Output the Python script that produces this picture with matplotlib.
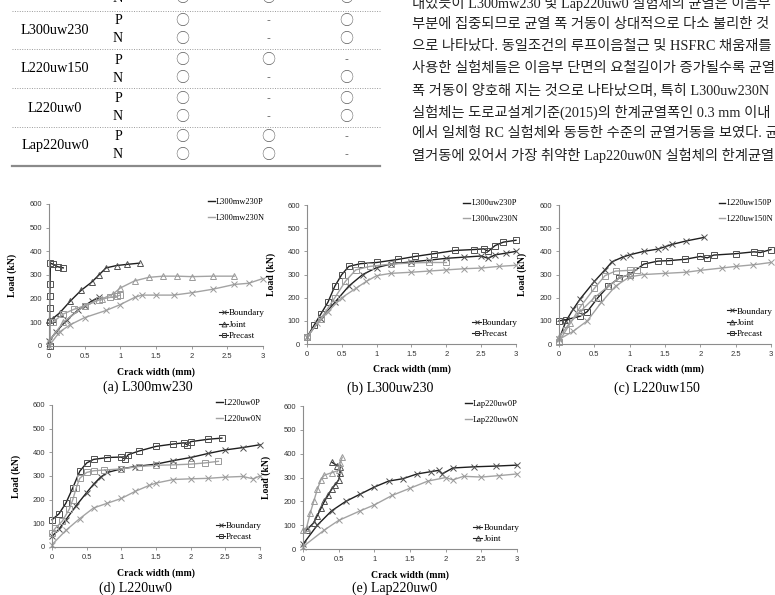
import matplotlib

matplotlib.use("Agg")
import matplotlib.pyplot as plt
from matplotlib.lines import Line2D

plt.rcParams["font.family"] = ["Liberation Serif", "Noto Sans CJK KR"]

W, H = 775, 595
BLACK = "#1e1e1e"
GRAY = "#a3a3a3"

# ---- table (upper left) ----
table_names = ["L300uw230", "L220uw150", "L220uw0", "Lap220uw0"]
table_p = [["○", "-", "○"], ["○", "○", "-"], ["○", "-", "○"], ["○", "○", "-"]]
table_n = [["○", "-", "○"], ["○", "-", "○"], ["○", "-", "○"], ["○", "○", "-"]]
top_row_n = ["○", "○", "○"]

# ---- body text (upper right) ----
body_lines = [
    "내었듯이 L300mw230 및 Lap220uw0 실험체의 균열은 이음부",
    "부분에 집중되므로 균열 폭 거동이 상대적으로 다소 불리한 것",
    "으로 나타났다. 동일조건의 루프이음철근 및 HSFRC 채움재를",
    "사용한 실험체들은 이음부 단면의 요철길이가 증가될수록 균열",
    "폭 거동이 양호해 지는 것으로 나타났으며, 특히 L300uw230N",
    "실험체는 도로교설계기준(2015)의 한계균열폭인 0.3 mm 이내",
    "에서 일체형 RC 실험체와 동등한 수준의 균열거동을 보였다. 균",
    "열거동에 있어서 가장 취약한 Lap220uw0N 실험체의 한계균열",
]

# ---- (a) L300mw230 ----
a_p_boundary = ([0, 0.1, 0.25, 0.4, 0.5, 0.6, 0.7], [20, 60, 110, 150, 170, 190, 205])
a_p_joint = ([0, 0.05, 0.15, 0.3, 0.45, 0.6, 0.7, 0.8, 0.95, 1.1, 1.27],
             [110, 115, 140, 190, 235, 270, 300, 330, 340, 345, 350])
a_p_precast = ([0.01, 0.01, 0.01, 0.01, 0.015, 0.02, 0.06, 0.12, 0.2],
               [0, 100, 160, 210, 260, 350, 345, 335, 330])
a_n_boundary = ([0, 0.15, 0.3, 0.5, 0.8, 1.0, 1.2, 1.3, 1.5, 1.75, 2.0, 2.3, 2.6, 2.8, 3.0],
                [0, 60, 90, 120, 150, 175, 205, 215, 215, 215, 225, 240, 260, 265, 285])
a_n_joint = ([0, 0.2, 0.5, 0.75, 0.9, 1.0, 1.2, 1.4, 1.6, 1.8, 2.0, 2.3, 2.6],
             [20, 100, 170, 200, 220, 245, 275, 290, 295, 295, 293, 295, 295])
a_n_precast = ([0.05, 0.2, 0.35, 0.5, 0.7, 0.85, 0.95, 1.0],
               [100, 135, 155, 170, 195, 205, 210, 215])

# ---- (b) L300uw230 ----
b_p_boundary = ([0, 0.2, 0.4, 0.6, 0.8, 1.0, 1.2, 1.5, 1.75, 2.0, 2.25, 2.5, 2.6, 2.7, 2.85, 3.0],
                [30, 110, 180, 250, 300, 330, 345, 355, 362, 370, 375, 380, 370, 385, 392, 400])
b_p_precast = ([0, 0.1, 0.2, 0.3, 0.4, 0.5, 0.6, 0.77, 1.0, 1.3, 1.55, 1.82, 2.13, 2.4, 2.54, 2.6, 2.7, 2.82, 3.0],
               [30, 80, 130, 180, 250, 300, 335, 347, 352, 365, 378, 390, 404, 408, 411, 400, 425, 440, 448])
b_n_boundary = ([0, 0.15, 0.3, 0.5, 0.7, 0.85, 1.0, 1.2, 1.5, 1.75, 2.0, 2.25, 2.5, 2.75, 3.0],
                [30, 90, 140, 200, 240, 270, 295, 305, 310, 315, 320, 325, 328, 335, 340])
b_n_precast = ([0, 0.2, 0.4, 0.55, 0.7, 0.9, 1.2, 1.5, 1.75, 2.0],
               [30, 110, 200, 270, 320, 335, 345, 350, 352, 352])

# ---- (c) L220uw150 ----
c_p_boundary = ([0, 0.1, 0.2, 0.3, 0.5, 0.65, 0.75, 0.9, 1.0, 1.2, 1.4, 1.5, 1.6, 1.8, 2.05],
                [20, 100, 150, 195, 270, 320, 355, 375, 385, 400, 410, 420, 430, 445, 460])
c_p_precast = ([0, 0.1, 0.3, 0.4, 0.55, 0.7, 0.85, 1.0, 1.2, 1.4, 1.56, 1.79, 2.0, 2.1, 2.19, 2.5, 2.76, 2.85, 3.0],
               [100, 105, 120, 140, 200, 250, 285, 300, 345, 358, 360, 366, 378, 372, 384, 390, 398, 395, 408])
c_n_boundary = ([0, 0.2, 0.4, 0.6, 0.8, 1.0, 1.2, 1.5, 1.8, 2.0, 2.3, 2.5, 2.75, 3.0],
                [20, 55, 100, 180, 250, 290, 300, 305, 310, 318, 328, 335, 342, 352])
c_n_joint = ([0, 0.15, 0.3, 0.5, 0.7, 0.85, 1.0], [30, 90, 140, 200, 250, 285, 300])
c_n_precast = ([0, 0.1, 0.3, 0.5, 0.65, 0.8, 1.0, 1.1], [10, 60, 160, 240, 295, 315, 318, 320])

# ---- (d) L220uw0 ----
d_p_boundary = ([0, 0.1, 0.2, 0.35, 0.5, 0.6, 0.7, 0.8, 1.0, 1.2, 1.5, 1.75, 2.0, 2.25, 2.5, 2.75, 3.0],
                [45, 75, 115, 175, 230, 265, 295, 315, 330, 340, 350, 365, 378, 395, 410, 420, 432])
d_p_precast = ([0, 0.1, 0.2, 0.3, 0.4, 0.5, 0.6, 0.8, 1.0, 1.05, 1.1, 1.25, 1.5, 1.75, 1.9, 1.95, 2.0, 2.25, 2.45],
               [115, 140, 185, 250, 320, 355, 370, 378, 380, 372, 390, 405, 425, 435, 440, 432, 445, 455, 460])
d_n_boundary = ([0, 0.2, 0.4, 0.6, 0.8, 1.0, 1.2, 1.4, 1.5, 1.75, 2.0, 2.25, 2.5, 2.75, 2.9, 3.0],
                [10, 70, 120, 165, 185, 205, 235, 260, 270, 285, 288, 290, 295, 298, 288, 300])
d_n_precast = ([0, 0.05, 0.15, 0.25, 0.3, 0.35, 0.4, 0.5, 0.6, 0.75, 1.0, 1.25, 1.5, 1.75, 2.0, 2.2, 2.4],
               [60, 80, 110, 160, 200, 250, 290, 315, 322, 325, 330, 340, 345, 347, 350, 355, 362])

# ---- (e) Lap220uw0 ----
e_p_boundary = ([0, 0.2, 0.4, 0.6, 0.8, 1.0, 1.2, 1.4, 1.6, 1.8, 1.9, 1.95, 2.1, 2.4, 2.7, 3.0],
                [20, 100, 160, 200, 230, 260, 285, 295, 315, 325, 330, 315, 340, 345, 348, 352])
e_p_joint = ([0.05, 0.15, 0.2, 0.25, 0.3, 0.35, 0.4, 0.45, 0.5, 0.52, 0.52, 0.48, 0.4],
             [80, 110, 140, 170, 200, 225, 250, 270, 290, 320, 345, 350, 365])
e_n_boundary = ([0, 0.3, 0.5, 0.8, 1.0, 1.25, 1.5, 1.75, 2.0, 2.1, 2.25, 2.5, 2.75, 3.0],
                [10, 80, 120, 160, 185, 225, 255, 285, 300, 290, 305, 302, 308, 315])
e_n_joint = ([0, 0.05, 0.1, 0.15, 0.2, 0.25, 0.3, 0.4, 0.5, 0.52, 0.55],
             [80, 90, 150, 200, 250, 290, 310, 320, 330, 360, 385])

MARKERS = {"Boundary": "x", "Joint": "^", "Precast": "s"}


def px(x, y):
    return x / W, 1 - y / H


def add_panel(rect, series, name, kinds, caption, cap_xy):
    ax = fig.add_axes(rect)
    for (xs, ys), color, kind in series:
        edge = "#505050" if color == BLACK else "#9a9a9a"
        ax.plot(xs, ys, color=color, lw=1.0, marker=MARKERS[kind], ms=3.8,
                mfc="none", mec=edge, mew=0.7, clip_on=False)
    ax.set_xlim(0, 3)
    ax.set_ylim(0, 600)
    ax.set_xticks([0, 0.5, 1, 1.5, 2, 2.5, 3])
    ax.set_xticklabels(["0", "0.5", "1", "1.5", "2", "2.5", "3"])
    ax.set_yticks(range(0, 601, 100))
    for s in ("top", "right"):
        ax.spines[s].set_visible(False)
    for s in ("left", "bottom"):
        ax.spines[s].set_color("#8c8c8c")
        ax.spines[s].set_linewidth(0.8)
    ax.tick_params(length=2, width=0.6, color="#8c8c8c", pad=3,
                   labelsize=5.5, labelcolor="#333333")
    for lab in ax.get_xticklabels() + ax.get_yticklabels():
        lab.set_family("Liberation Sans")
    ax.set_ylabel("Load (kN)", fontsize=7, fontweight="bold")
    ax.yaxis.set_label_coords(-0.15, 0.5)
    ax.set_xlabel("Crack width (mm)", fontsize=7, fontweight="bold")
    ax.xaxis.set_label_coords(0.5, -0.15)

    top = ax.legend(
        [Line2D([], [], color=BLACK, lw=1.0), Line2D([], [], color=GRAY, lw=1.0)],
        [name + "P", name + "N"], loc="upper right", bbox_to_anchor=(1.01, 1.04),
        frameon=False, fontsize=6, handlelength=0.8, handletextpad=0.15,
        labelspacing=0.9, borderaxespad=0, borderpad=0)
    ax.add_artist(top)
    handles = [Line2D([], [], color=BLACK, lw=0.8, marker=MARKERS[k], ms=3.5,
                      mfc="none", mec="#404040", mew=0.7) for k in kinds]
    ax.legend(handles, kinds, loc="lower right", bbox_to_anchor=(1.01, 0.04),
              frameon=False, fontsize=6.5, handlelength=1.0, handletextpad=0.1,
              labelspacing=0.35, borderaxespad=0, borderpad=0)
    fig.text(*px(*cap_xy), caption, ha="center", va="center", fontsize=10)
    return ax


fig = plt.figure(figsize=(W / 100, H / 100), dpi=100)

# table
col_x = [182, 268, 346]
mark_font = dict(ha="center", va="center", color="#666666", family=["Noto Sans CJK KR"])
fig.text(*px(118, -2), "N", ha="center", va="center", fontsize=10.5)
for cx, mark in zip(col_x, top_row_n):
    fig.text(*px(cx, -2), mark, fontsize=10 if mark == "○" else 9, **mark_font)
row_y = [30, 69, 108, 146]
for name, ry, prow, nrow in zip(table_names, row_y, table_p, table_n):
    fig.text(*px(55, ry), name, ha="center", va="center", fontsize=10.3)
    for dy, tag, row in ((-9, "P", prow), (9, "N", nrow)):
        fig.text(*px(118, ry + dy), tag, ha="center", va="center", fontsize=10)
        for cx, mark in zip(col_x, row):
            fig.text(*px(cx, ry + dy), mark, fontsize=10 if mark == "○" else 8,
                     **mark_font)
for ly in [11, 49, 88, 127]:
    fig.add_artist(Line2D([12 / W, 380 / W], [1 - ly / H] * 2, color="#9a9a9a",
                          lw=0.7, ls=(0, (1, 1.5))))
fig.add_artist(Line2D([12 / W, 380 / W], [1 - 166 / H] * 2, color="#8a8a8a", lw=1.6))

# body text
for i, line in enumerate(body_lines):
    fig.text(*px(412, 3 + i * 21.8), line, ha="left", va="center", fontsize=10.3,
             color="#222222")

add_panel([0.0632, 0.4185, 0.2761, 0.2387],
          [(a_p_boundary, BLACK, "Boundary"), (a_p_joint, BLACK, "Joint"),
           (a_p_precast, BLACK, "Precast"), (a_n_boundary, GRAY, "Boundary"),
           (a_n_joint, GRAY, "Joint"), (a_n_precast, GRAY, "Precast")],
          "L300mw230", ["Boundary", "Joint", "Precast"], "(a) L300mw230", (148, 387))
add_panel([0.3961, 0.4218, 0.2697, 0.2336],
          [(b_p_boundary, BLACK, "Boundary"), (b_p_precast, BLACK, "Precast"),
           (b_n_boundary, GRAY, "Boundary"), (b_n_precast, GRAY, "Precast")],
          "L300uw230", ["Boundary", "Precast"], "(b) L300uw230", (390, 388))
add_panel([0.7213, 0.4218, 0.2735, 0.2336],
          [(c_p_boundary, BLACK, "Boundary"), (c_p_precast, BLACK, "Precast"),
           (c_n_boundary, GRAY, "Boundary"), (c_n_joint, GRAY, "Joint"),
           (c_n_precast, GRAY, "Precast")],
          "L220uw150", ["Boundary", "Joint", "Precast"], "(c) L220uw150", (657, 388))
add_panel([0.0671, 0.0807, 0.2684, 0.2387],
          [(d_p_boundary, BLACK, "Boundary"), (d_p_precast, BLACK, "Precast"),
           (d_n_boundary, GRAY, "Boundary"), (d_n_precast, GRAY, "Precast")],
          "L220uw0", ["Boundary", "Precast"], "(d) L220uw0", (135, 588))
add_panel([0.391, 0.0773, 0.2761, 0.2403],
          [(e_p_boundary, BLACK, "Boundary"), (e_p_joint, BLACK, "Joint"),
           (e_n_boundary, GRAY, "Boundary"), (e_n_joint, GRAY, "Joint")],
          "Lap220uw0", ["Boundary", "Joint"], "(e) Lap220uw0", (395, 588))

fig.savefig("out.png", dpi=100)
